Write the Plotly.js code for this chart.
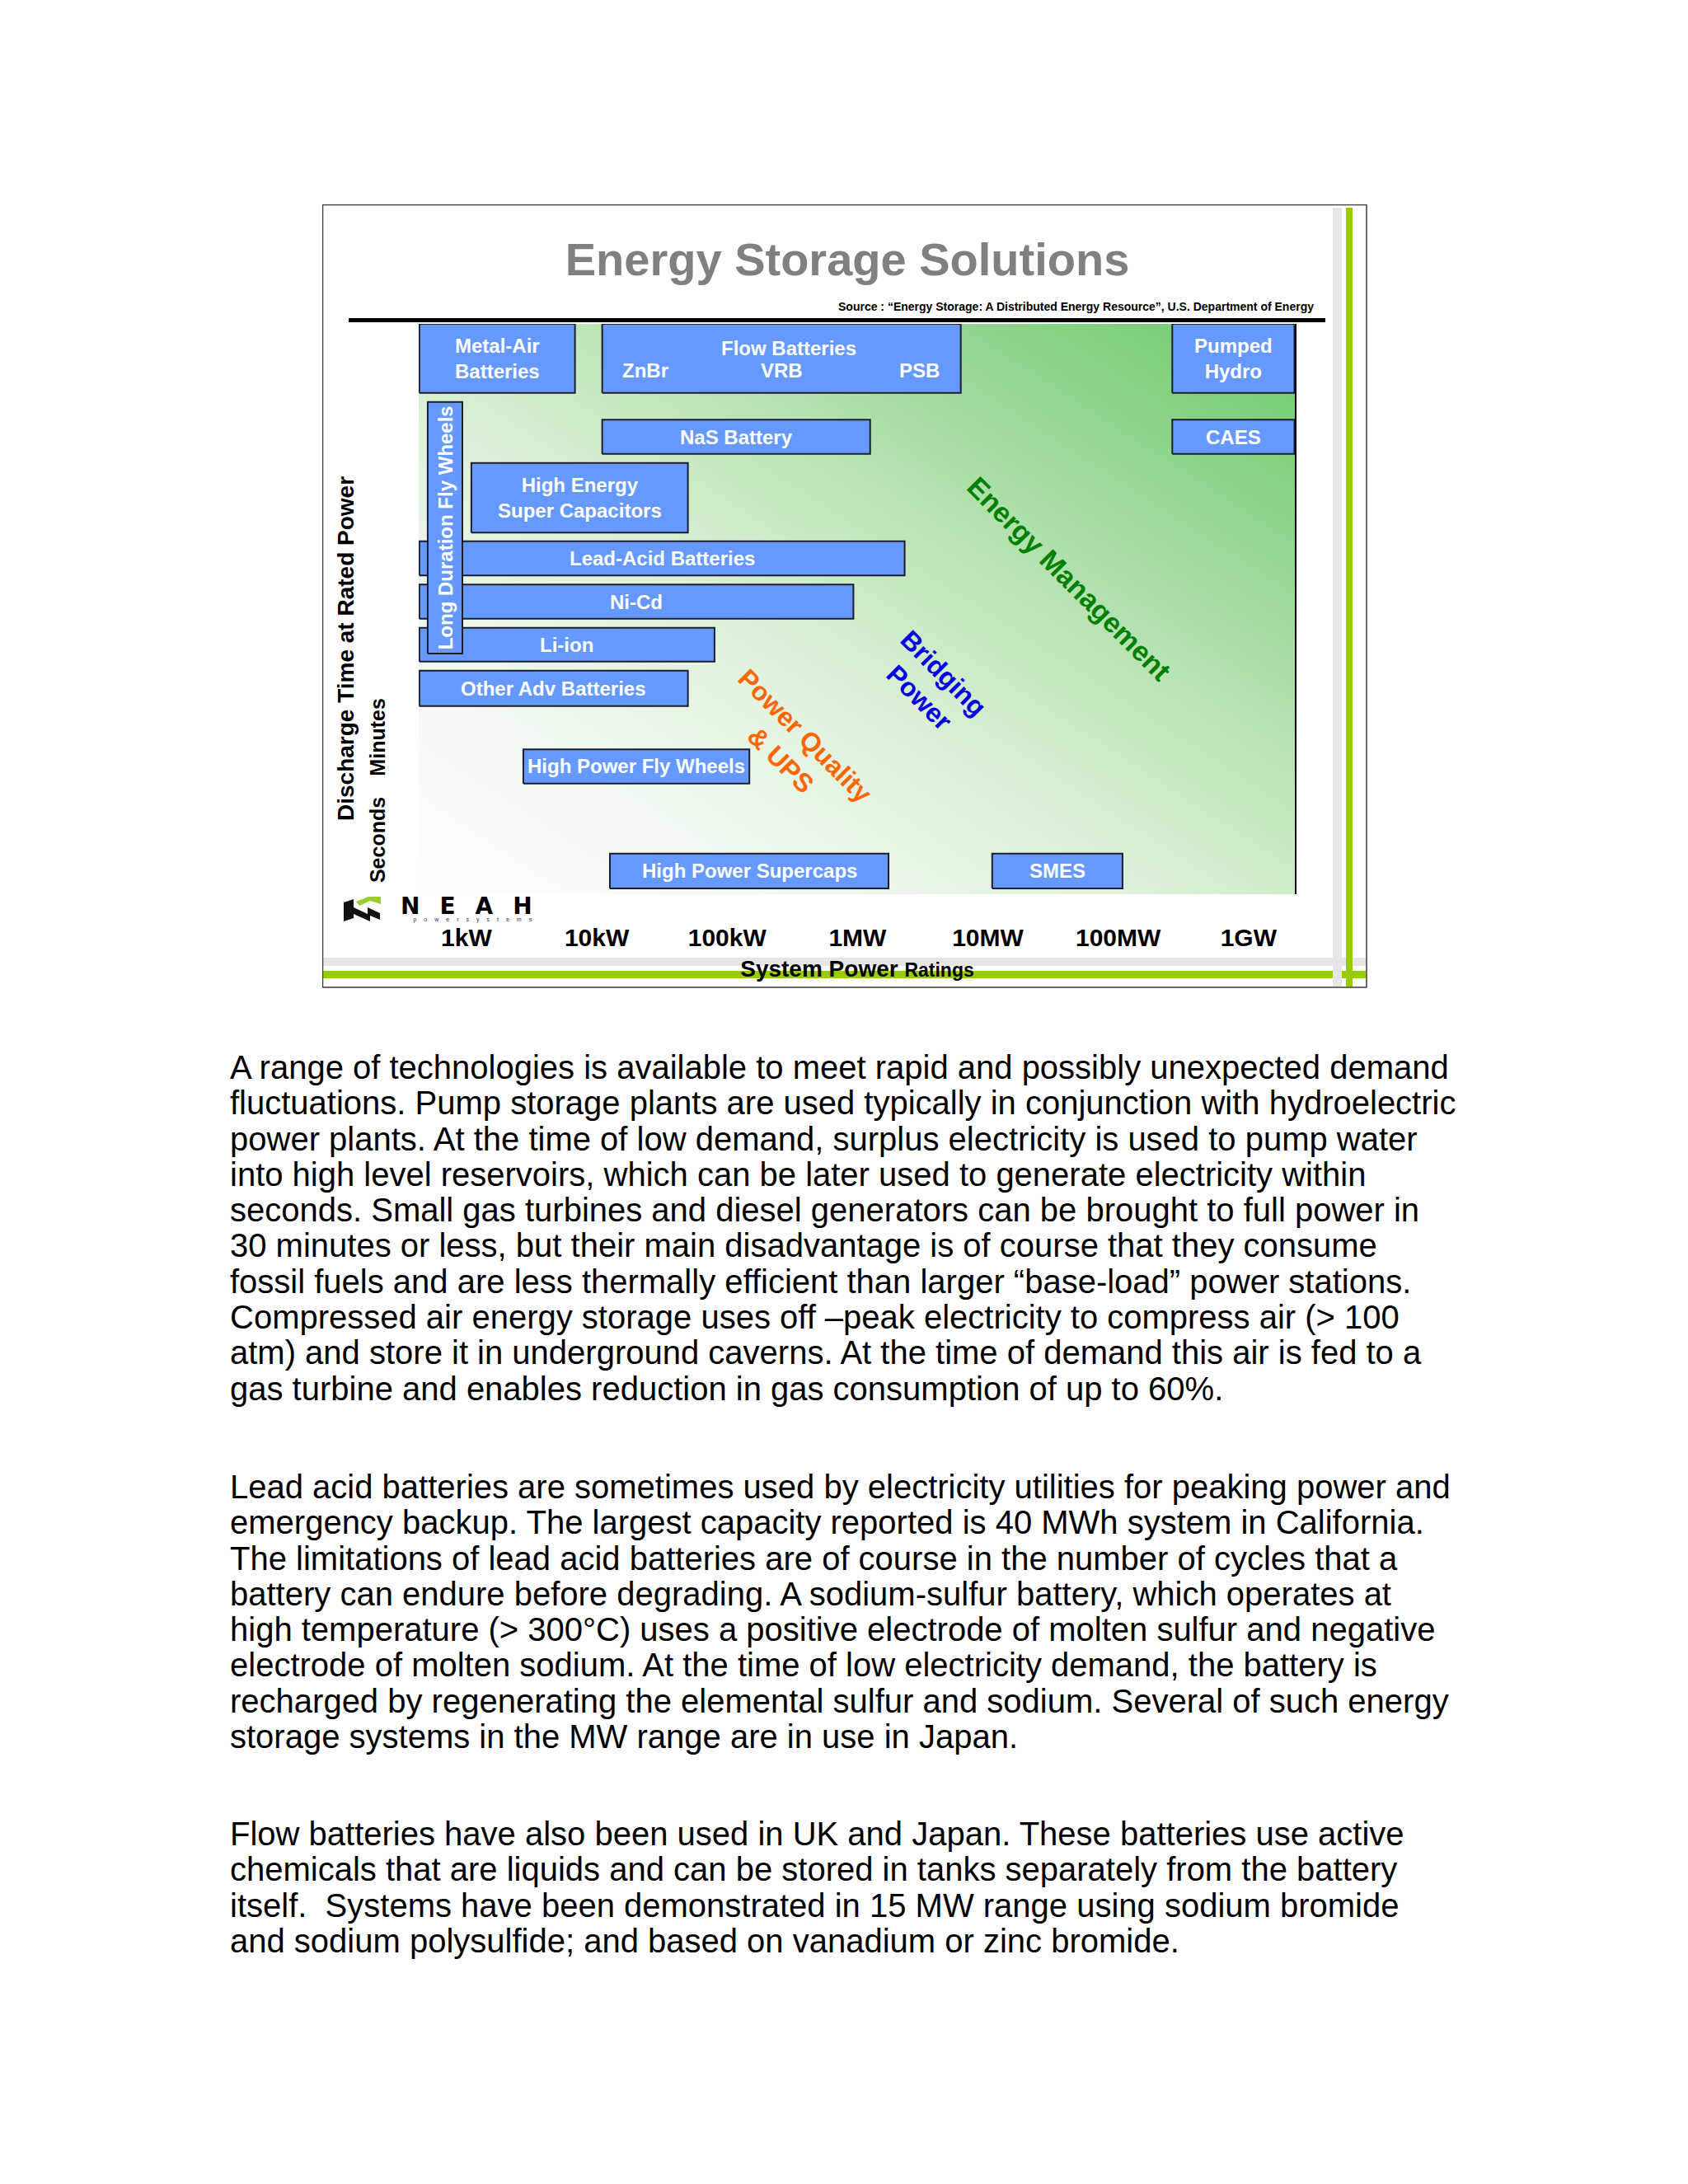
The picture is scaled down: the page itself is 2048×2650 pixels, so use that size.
<!DOCTYPE html>
<html>
<head>
<meta charset="utf-8">
<script src="https://cdn.plot.ly/plotly-3.0.1.min.js"></script>
<style>
html,body{margin:0;padding:0;background:#fff;}
#page{position:relative;width:2048px;height:2650px;background:#fff;overflow:hidden;}
#chart{position:absolute;left:391px;top:248px;width:1268px;height:951px;}
.para{position:absolute;left:279px;margin:0;font-family:'Liberation Sans',Arial,Helvetica,sans-serif;font-size:40px;line-height:43.3px;color:#000;white-space:pre;}
</style>
</head>
<body>
<div id="page">
<div id="chart"></div>
<p class="para" style="top:1274px">A range of technologies is available to meet rapid and possibly unexpected demand
fluctuations. Pump storage plants are used typically in conjunction with hydroelectric
power plants. At the time of low demand, surplus electricity is used to pump water
into high level reservoirs, which can be later used to generate electricity within
seconds. Small gas turbines and diesel generators can be brought to full power in
30 minutes or less, but their main disadvantage is of course that they consume
fossil fuels and are less thermally efficient than larger “base-load” power stations.
Compressed air energy storage uses off –peak electricity to compress air (&gt; 100
atm) and store it in underground caverns. At the time of demand this air is fed to a
gas turbine and enables reduction in gas consumption of up to 60%.</p>
<p class="para" style="top:1783px">Lead acid batteries are sometimes used by electricity utilities for peaking power and
emergency backup. The largest capacity reported is 40 MWh system in California.
The limitations of lead acid batteries are of course in the number of cycles that a
battery can endure before degrading. A sodium-sulfur battery, which operates at
high temperature (&gt; 300°C) uses a positive electrode of molten sulfur and negative
electrode of molten sodium. At the time of low electricity demand, the battery is
recharged by regenerating the elemental sulfur and sodium. Several of such energy
storage systems in the MW range are in use in Japan.</p>
<p class="para" style="top:2204px">Flow batteries have also been used in UK and Japan. These batteries use active
chemicals that are liquids and can be stored in tanks separately from the battery
itself.  Systems have been demonstrated in 15 MW range using sodium bromide
and sodium polysulfide; and based on vanadium or zinc bromide.</p>
</div>
<script>
// ---------------- DATA ----------------
const techNames = ['Metal-Air<br>Batteries', 'Flow Batteries', 'Pumped<br>Hydro', 'NaS Battery', 'CAES',
  'High Energy<br>Super Capacitors', 'Lead-Acid Batteries', 'Ni-Cd', 'Li-ion', 'Other Adv Batteries',
  'High Power Fly Wheels', 'High Power Supercaps', 'SMES', 'Long Duration Fly Wheels'];
// system power range, kW
const powerMinKW = [0.435, 11, 2.6e5, 11, 2.6e5, 1.09, 0.435, 0.435, 0.435, 0.435, 2.73, 12.6, 10800, 0.504];
const powerMaxKW = [6.8, 6200, 2.25e6, 1250, 2.25e6, 50, 2300, 930, 80, 50, 148, 1730, 108000, 0.93];
// discharge time at rated power, relative scale (0 = shortest, 100 = longest)
const timeMin = [87.9, 87.9, 87.9, 77.2, 77.2, 63.4, 55.9, 48.3, 40.8, 33.0, 19.4, 1.0, 1.0, 42.2];
const timeMax = [100, 100, 100, 83.2, 83.2, 75.6, 61.9, 54.3, 46.7, 39.2, 25.4, 7.1, 7.1, 86.3];
const flowTypes = ['ZnBr', 'VRB', 'PSB'];
const flowTypeKW = [23.6, 264, 2970];
const powerTickKW = [1, 10, 100, 1000, 1e4, 1e5, 1e6];
const powerTickLabels = ['1kW', '10kW', '100kW', '1MW', '10MW', '100MW', '1GW'];
const timeTickVals = [9, 27];
const timeTickLabels = ['Seconds', 'Minutes'];
const regionLabels = ['Power Quality<br>& UPS', 'Bridging<br>Power', 'Energy Management'];
const regionColors = ['#ff6600', '#0000e0', '#008000'];

// ---------------- HELPERS (page pixel -> paper) ----------------
const FONT = "'Liberation Sans', Arial, Helvetica, sans-serif";
const PL = 508, PR = 1572, PT = 393, PB = 1085;
const PX = p => (p - PL) / (PR - PL);
const PY = p => (PB - p) / (PB - PT);
const lg = v => Math.log10(v);

// ---------------- TRACES ----------------
const traces = techNames.map((n, i) => ({
  type: 'scatter', mode: 'lines', fill: 'toself',
  x: [powerMinKW[i], powerMaxKW[i], powerMaxKW[i], powerMinKW[i], powerMinKW[i]],
  y: [timeMin[i], timeMin[i], timeMax[i], timeMax[i], timeMin[i]],
  fillcolor: '#6699ff', line: {color: '#1e1e2a', width: 2},
  name: n.replace(/<br>/g, ' '), hoverinfo: 'name', showlegend: false
}));

// ---------------- ANNOTATIONS ----------------
const C = {xanchor: 'center', yanchor: 'middle', showarrow: false};
const boxFont = {family: FONT, size: 24, color: '#fff', weight: 'bold'};
const annotations = [];
techNames.forEach((n, i) => {
  const xc = (lg(powerMinKW[i]) + lg(powerMaxKW[i])) / 2;
  const h = timeMax[i] - timeMin[i];
  if (n === 'Flow Batteries') {
    annotations.push(Object.assign({x: xc, y: timeMax[i] - 0.35 * h, xref: 'x', yref: 'y', text: n, xshift: 9, font: boxFont}, C));
    flowTypes.forEach((t, j) => annotations.push(Object.assign({x: lg(flowTypeKW[j]), y: timeMax[i] - 0.68 * h, xref: 'x', yref: 'y',
      text: t, font: boxFont}, C)));
  } else {
    annotations.push(Object.assign({x: xc, y: (timeMin[i] + timeMax[i]) / 2, xref: 'x', yref: 'y', text: n,
      textangle: n === 'Long Duration Fly Wheels' ? -90 : 0, font: boxFont}, C));
  }
});
// region labels
const regionPos = [[962, 908, 32], [1130, 832, 32], [1297, 702, 34]];
regionLabels.forEach((t, i) => annotations.push(Object.assign({
  x: PX(regionPos[i][0]), y: PY(regionPos[i][1]), xref: 'paper', yref: 'paper', text: t,
  textangle: 45, align: 'center', font: {family: FONT, size: regionPos[i][2], color: regionColors[i], weight: 'bold'}
}, C)));
// source line
annotations.push({x: PX(1596), y: PY(371.8), xref: 'paper', yref: 'paper', xanchor: 'right', yanchor: 'middle',
  text: 'Source : “Energy Storage: A Distributed Energy Resource”, U.S. Department of Energy', showarrow: false,
  font: {family: FONT, size: 14, color: '#000', weight: 'bold'}});
// y axis title
annotations.push(Object.assign({x: PX(419), y: PY(787), xref: 'paper', yref: 'paper', text: 'Discharge Time at Rated Power',
  textangle: -90, font: {family: FONT, size: 28, color: '#000', weight: 'bold'}}, C));
// NEAH logo text (one text block: name + tagline)
annotations.push(Object.assign({x: PX(578), y: PY(1101), xref: 'paper', yref: 'paper', align: 'center',
  text: "<b><span style='font-family:DejaVu Sans;font-size:28px;letter-spacing:24px;fill:#000'>NEAH</span></b><br>" +
        "<span style='letter-spacing:9px'>powersystems</span>",
  font: {family: FONT, size: 7, color: '#333'}}, C));

// ---------------- SHAPES ----------------
const rect = (x0, y0, x1, y1, fill) => ({type: 'rect', xref: 'paper', yref: 'paper', x0: PX(x0), x1: PX(x1), y0: PY(y1), y1: PY(y0),
  fillcolor: fill, line: {width: 0}, layer: 'above'});
const poly = (pts, fill) => ({type: 'path', xref: 'paper', yref: 'paper', layer: 'above', fillcolor: fill, line: {width: 0},
  path: 'M' + pts.map(p => PX(p[0]) + ',' + PY(p[1])).join('L') + 'Z'});
const shapes = [
  rect(423, 386, 1608, 391, '#000'),
  rect(392, 1162, 1657, 1172, '#e6e6e6'),
  rect(392, 1178, 1657, 1187, '#99cc00'),
  rect(1617, 252, 1628, 1197, '#e6e6e6'),
  rect(1633, 252, 1641, 1197, '#99cc00'),
  {type: 'line', xref: 'paper', yref: 'paper', x0: 1, x1: 1, y0: 0, y1: 1, line: {color: '#000', width: 2}, layer: 'above'},
  {type: 'rect', xref: 'paper', yref: 'paper', x0: PX(391.5), x1: PX(1658), y0: PY(1198), y1: PY(248.5),
    line: {color: '#3a3a3a', width: 1.5}, fillcolor: 'rgba(0,0,0,0)', layer: 'above'},
  // logo mark
  poly([[417, 1095], [429, 1091], [429, 1114], [417, 1118]], '#111'),
  poly([[429, 1101], [446, 1109], [446, 1101], [461, 1108], [461, 1116], [449, 1111], [449, 1118], [429, 1109]], '#111'),
  poly([[432, 1094], [447, 1088], [462, 1088], [462, 1097], [449, 1093], [436, 1099]], '#99cc33')
];

// ---------------- BACKGROUND GRADIENT ----------------
const gradSvg = "<svg xmlns='http://www.w3.org/2000/svg' width='1064' height='692' viewBox='0 0 1064 692' preserveAspectRatio='none'>" +
  "<defs><linearGradient id='g' x1='0' y1='1' x2='1' y2='0'>" +
  "<stop offset='0' stop-color='#ffffff'/><stop offset='0.2' stop-color='#f1f9f0'/>" +
  "<stop offset='0.4' stop-color='#dff2dc'/><stop offset='0.5' stop-color='#cfecca'/>" +
  "<stop offset='0.6' stop-color='#bce5b7'/><stop offset='0.72' stop-color='#a4dca0'/>" +
  "<stop offset='0.86' stop-color='#86d283'/><stop offset='1' stop-color='#6ccb6c'/>" +
  "</linearGradient></defs><rect width='1064' height='692' fill='url(#g)'/></svg>";

const layout = {
  width: 1268, height: 951,
  margin: {l: 117, r: 87, t: 145, b: 114, pad: 0},
  paper_bgcolor: '#ffffff', plot_bgcolor: 'rgba(0,0,0,0)',
  font: {family: FONT, color: '#000'},
  showlegend: false,
  title: {text: 'Energy Storage Solutions', font: {family: FONT, size: 56, color: '#808080', weight: 'bold'},
    xref: 'container', yref: 'container', x: (1028 - 391) / 1268, xanchor: 'center', y: 1 - (314.4 - 248) / 951, yanchor: 'middle'},
  xaxis: {type: 'log', range: [lg(0.43), lg(2.3e6)], tickvals: powerTickKW, ticktext: powerTickLabels,
    tickfont: {family: FONT, size: 30, color: '#000', weight: 'bold'}, ticks: 'outside', ticklen: 26, tickcolor: 'rgba(0,0,0,0)',
    showgrid: false, zeroline: false, showline: false, fixedrange: true,
    title: {text: "System Power <span style='font-size:23px'>Ratings</span>", font: {family: FONT, size: 28, color: '#000', weight: 'bold'}, standoff: 12}},
  yaxis: {range: [0, 100], tickvals: timeTickVals, ticktext: timeTickLabels, tickangle: -90,
    tickfont: {family: FONT, size: 25, color: '#000', weight: 'bold'}, ticks: 'outside', ticklen: 30, tickcolor: 'rgba(0,0,0,0)',
    showgrid: false, zeroline: false, showline: false, fixedrange: true},
  shapes: shapes,
  annotations: annotations,
  images: [{source: 'data:image/svg+xml;charset=utf-8,' + encodeURIComponent(gradSvg), xref: 'paper', yref: 'paper',
    x: 0, y: 1, sizex: 1, sizey: 1, xanchor: 'left', yanchor: 'top', sizing: 'stretch', layer: 'below'}]
};

Plotly.newPlot('chart', traces, layout, {displayModeBar: false, staticPlot: true});
</script>
</body>
</html>
